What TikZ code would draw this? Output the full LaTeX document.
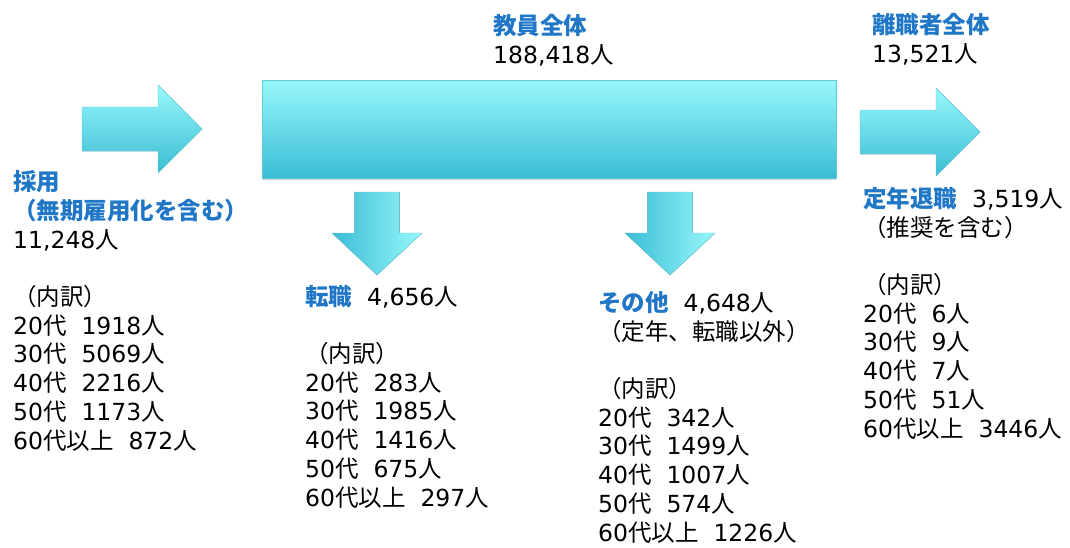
\documentclass[tikz,border=0pt]{standalone}
\usepackage{fontspec}
\setmainfont{DejaVu Sans}
\newfontfamily\jpfamily{Noto Sans CJK JP}
\usetikzlibrary{shadows}
\definecolor{HeadClr}{RGB}{31,119,198}
\definecolor{ArrowLight}{RGB}{152,248,252}
\definecolor{ArrowDark}{RGB}{58,188,212}
\definecolor{ArrowEdge}{RGB}{96,204,222}

% switch to the Japanese font for CJK characters
\chardef\CjkClass=9
\count255="3000
\loop \XeTeXcharclass\count255=\CjkClass \advance\count255 by 1 \ifnum\count255<"A000 \repeat
\count255="FF00
\loop \XeTeXcharclass\count255=\CjkClass \advance\count255 by 1 \ifnum\count255<"FFF0 \repeat
\XeTeXinterchartoks 0 \CjkClass = {\jpfamily}
\XeTeXinterchartoks 4095 \CjkClass = {\jpfamily}
\XeTeXinterchartoks \CjkClass 0 = {\rmfamily}
\XeTeXinterchartoks \CjkClass 4095 = {\rmfamily}
\XeTeXinterchartokenstate=1

\newcommand\hd[1]{\textcolor{HeadClr}{\bfseries #1}}

\tikzset{
  flow/.style={draw=ArrowEdge, line width=0.4pt, top color=ArrowLight, bottom color=ArrowDark},
  dflow/.style={draw=ArrowEdge, line width=0.4pt, left color=ArrowDark, right color=ArrowLight},
  lbl/.style={anchor=base west, align=left, inner sep=0pt, font=\fontsize{23.5}{28.7}\selectfont},
}

\begin{document}
\begin{tikzpicture}[x=1pt,y=-1pt]
\useasboundingbox (0,0) rectangle (1070,547);

% staff total
\fill[ArrowEdge, top color=ArrowLight, bottom color=ArrowDark,
  drop shadow={opacity=0.35, shadow xshift=0pt, shadow yshift=-2pt}]
  (262,80) rectangle (836,178);
\draw[ArrowEdge, line width=0.6pt] (262,80) rectangle (836,178);

% in and out arrows
\foreach \x/\y in {82/129, 860/132}
  \filldraw[flow] (\x,\y-22) -- ++(76,0) -- ++(0,-22) -- ++(44,44) -- ++(-44,44)
    -- ++(0,-22) -- ++(-76,0) -- cycle;

% down arrows
\foreach \x in {377, 670}
  \filldraw[dflow] (\x-22.5,192) -- ++(45,0) -- ++(0,41) -- ++(22.5,0) -- ++(-45,42)
    -- ++(-45,-42) -- ++(22.5,0) -- cycle;

% the base of a node is its last line
\node[lbl] (staff) at (493,63) {\hd{教員全体}\\188,418人};
\node[lbl] (leavers) at (872,62) {\hd{離職者全体}\\13,521人};

\node[lbl] (hire) at (13,449) {\hd{採用}\\\hd{（無期雇用化を含む）}\\11,248人\\[28.7pt]
  （内訳）\\20代~ 1918人\\30代~ 5069人\\40代~ 2216人\\50代~ 1173人\\60代以上~ 872人};

\node[lbl] (change) at (305,506) {\hd{転職}~ 4,656人\\[28.7pt]
  （内訳）\\20代~ 283人\\30代~ 1985人\\40代~ 1416人\\50代~ 675人\\60代以上~ 297人};

\node[lbl] (other) at (598,541) {\hd{その他}~ 4,648人\\（定年、転職以外）\\[28.7pt]
  （内訳）\\20代~ 342人\\30代~ 1499人\\40代~ 1007人\\50代~ 574人\\60代以上~ 1226人};

\node[lbl] (retire) at (863,437) {\hd{定年退職}~ 3,519人\\（推奨を含む）\\[28.7pt]
  （内訳）\\20代~ 6人\\30代~ 9人\\40代~ 7人\\50代~ 51人\\60代以上~ 3446人};

\end{tikzpicture}
\end{document}
